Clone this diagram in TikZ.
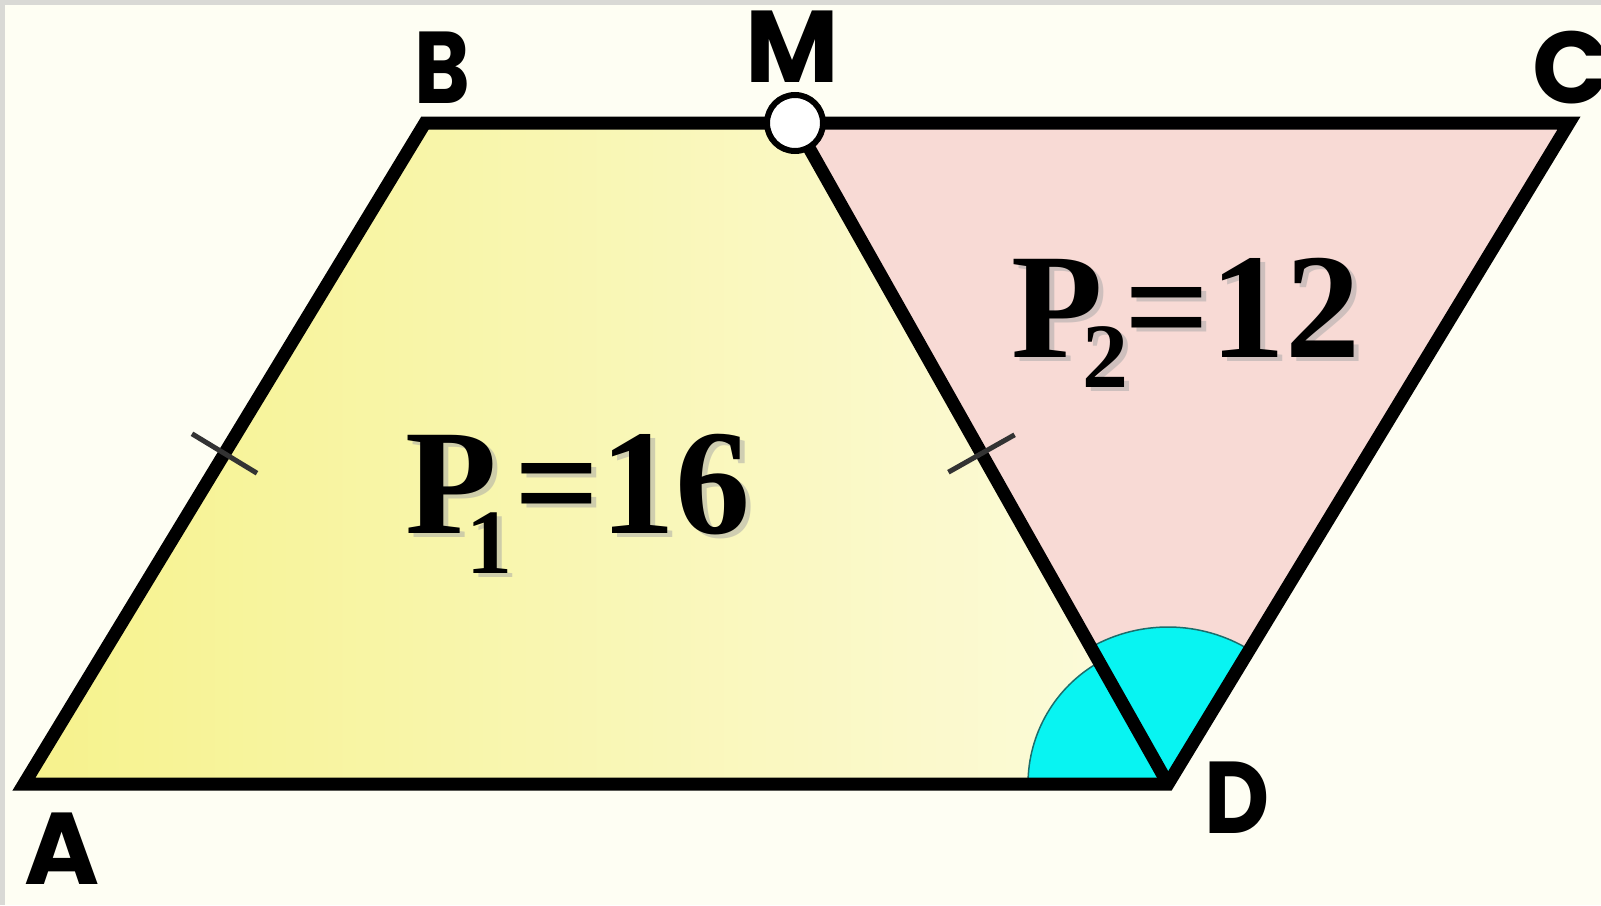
\documentclass[tikz,border=0pt]{standalone}
\usepackage{fontspec}
\usepackage{graphicx}
\usetikzlibrary{calc}
\newfontfamily\labfont{Poppins}
\newfontfamily\pfont{Liberation Serif}
\definecolor{bgcream}{HTML}{FEFEF3}
\definecolor{framegray}{HTML}{D9D9D5}
\definecolor{yelL}{HTML}{F6F28C}
\definecolor{yelR}{HTML}{FCFBDD}
\definecolor{pinkfill}{HTML}{F8DAD5}
\definecolor{cyanfill}{HTML}{08F4F2}
\definecolor{cyanedge}{HTML}{1B6E6C}
\tikzset{
  edge/.style={line width=13pt, line join=miter, black},
  tick/.style={line width=5pt, draw=black!80},
  vlabel/.style={inner sep=0pt, font=\labfont\bfseries\fontsize{102}{102}\selectfont},
  plabel/.style={inner sep=0pt, anchor=base west, font=\pfont\bfseries\fontsize{150}{150}\selectfont},
  sector/.style={fill=cyanfill, draw=cyanedge, line width=1.5pt},
  dot/.style={circle, fill=white, draw=black, line width=6pt, minimum size=56pt, inner sep=0pt}
}
\begin{document}
\begin{tikzpicture}[x=1pt,y=-1pt]
\useasboundingbox (0,0) rectangle (1601,905);
\fill[framegray] (0,0) rectangle (1601,905);
\fill[bgcream] (5,5) rectangle (1601,905);
\coordinate (A) at (24,784);
\coordinate (B) at (425,123);
\coordinate (M) at (795,123);
\coordinate (C) at (1569,123);
\coordinate (D) at (1168,784);
% fills
\shade[left color=yelL, right color=yelR] (A) -- (B) -- (M) -- (D) -- cycle;
\fill[pinkfill] (M) -- (C) -- (D) -- cycle;
% angle sectors at D
\draw[sector] (D) -- ++(-180:140) arc[start angle=-180, end angle=-119.4, radius=140] -- cycle;
\draw[sector] (D) -- ++(-119.4:157) arc[start angle=-119.4, end angle=-58.8, radius=157] -- cycle;
% edges
\draw[edge] (A) -- (B) -- (C) -- (D) -- cycle;
\draw[edge] (M) -- (D);
% ticks
\coordinate (mAB) at ($(A)!0.5!(B)$);
\coordinate (mMD) at ($(M)!0.5!(D)$);
\draw[tick] ($(mAB)!38pt!90:(B)$) -- ($(mAB)!38pt!-90:(B)$);
\draw[tick] ($(mMD)!38pt!90:(D)$) -- ($(mMD)!38pt!-90:(D)$);
% point M
\node[dot] (Mdot) at (M) {};
% vertex labels
\node[vlabel, anchor=base west] (lB) at (414,103) {\scalebox{0.83}[1]{B}};
\node[vlabel, anchor=base] (lM) at (792,82) {M};
\node[vlabel, anchor=base west] (lC) at (1532,103) {C};
\node[vlabel, anchor=base] (lA) at (62,884) {A};
\node[vlabel, anchor=base west] (lD) at (1204,833) {\scalebox{0.88}[1]{D}};
% perimeter labels
\node[plabel, text=black!35, opacity=0.5] (p1s) at (410,537) {P\kern-30pt\raisebox{-40pt}{\fontsize{92}{92}\selectfont 1}\kern2pt=16};
\node[plabel] (p1) at (405,533) {P\kern-30pt\raisebox{-40pt}{\fontsize{92}{92}\selectfont 1}\kern2pt=16};
\node[plabel, text=black!35, opacity=0.5] (p2s) at (1016,361) {P\kern-20pt\raisebox{-30pt}{\fontsize{92}{92}\selectfont 2}\kern-4pt=12};
\node[plabel] (p2) at (1011,357) {P\kern-20pt\raisebox{-30pt}{\fontsize{92}{92}\selectfont 2}\kern-4pt=12};
\end{tikzpicture}
\end{document}
